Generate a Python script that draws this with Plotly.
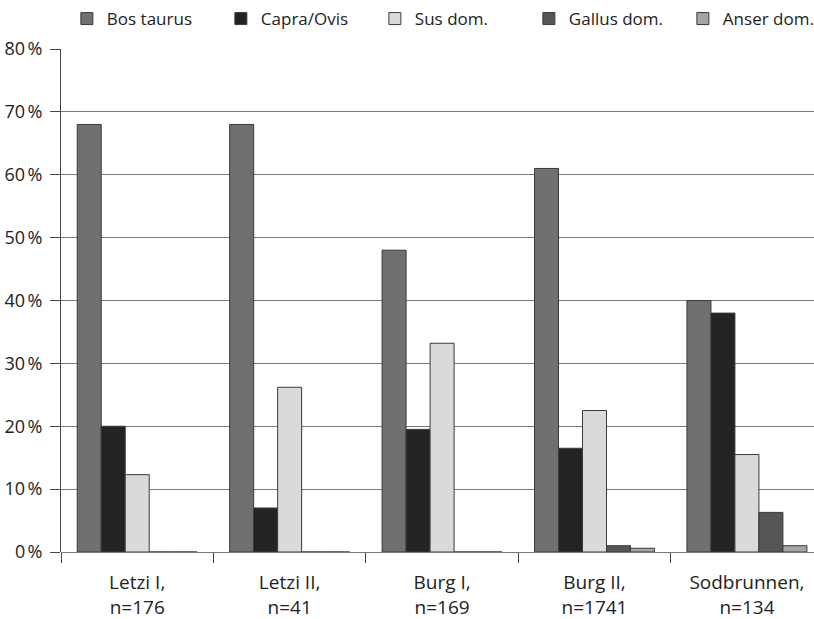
import plotly.graph_objects as go

categories = ["Letzi I,<br>n=176", "Letzi II,<br>n=41", "Burg I,<br>n=169", "Burg II,<br>n=1741", "Sodbrunnen,<br>n=134"]
series_names = ["Bos taurus", "Capra/Ovis", "Sus dom.", "Gallus dom.", "Anser dom."]
bos = [68, 68, 48, 61, 40]
capra = [20, 7, 19.5, 16.5, 38]
sus = [12.3, 26.2, 33.2, 22.5, 15.5]
gallus = [0, 0, 0, 1.0, 6.3]
anser = [0, 0, 0, 0.6, 1.0]
colors = ["#707070", "#232323", "#dadada", "#565656", "#a5a5a5"]

values = [bos, capra, sus, gallus, anser]
FONT = "Open Sans"

fig = go.Figure()
for name, vals, col in zip(series_names, values, colors):
    fig.add_trace(go.Bar(
        x=categories, y=vals, name=name,
        marker=dict(color=col, line=dict(color="#3a3a3a", width=1)),
    ))

fig.update_layout(
    width=814, height=619,
    margin=dict(l=61, r=0, t=49, b=67, autoexpand=False),
    paper_bgcolor="white", plot_bgcolor="white",
    barmode="group", bargap=0.213, bargroupgap=0,
    font=dict(family=FONT, size=18, color="#222222"),
    showlegend=True,
    legend=dict(
        orientation="h", x=-0.0015, xanchor="left",
        y=1.0596, yanchor="middle",
        entrywidth=102, entrywidthmode="pixels", itemwidth=30,
        indentation=7,
        font=dict(family=FONT, size=17, color="#222222"),
        traceorder="normal",
    ),
    xaxis=dict(
        type="category", range=[-0.5, 4.44],
        showline=False, showgrid=False,
        tickson="boundaries", ticks="outside", ticklen=10, tickcolor="#444444", tickwidth=1,
        tickfont=dict(family=FONT, size=19, color="#222222"),
        ticklabelstandoff=17,
    ),
    yaxis=dict(
        range=[0, 80], dtick=10,
        ticksuffix="\u202f%",
        showgrid=True, gridcolor="#7a7a7a", gridwidth=1,
        zeroline=True, zerolinecolor="#7a7a7a", zerolinewidth=1,
        showline=True, linecolor="#444444", linewidth=1,
        ticks="outside", ticklen=10, tickcolor="#444444",
        tickfont=dict(family=FONT, size=18, color="#222222"),
        ticklabelstandoff=4,
    ),
    shapes=[dict(
        type="line", xref="paper", x0=0, x1=0,
        yref="y", ysizemode="pixel", yanchor=0, y0=0, y1=-10,
        line=dict(color="#444444", width=1),
    )],
)
fig.write_html("out.html", config={"displayModeBar": False},
               post_script="document.body.style.margin='0';")
